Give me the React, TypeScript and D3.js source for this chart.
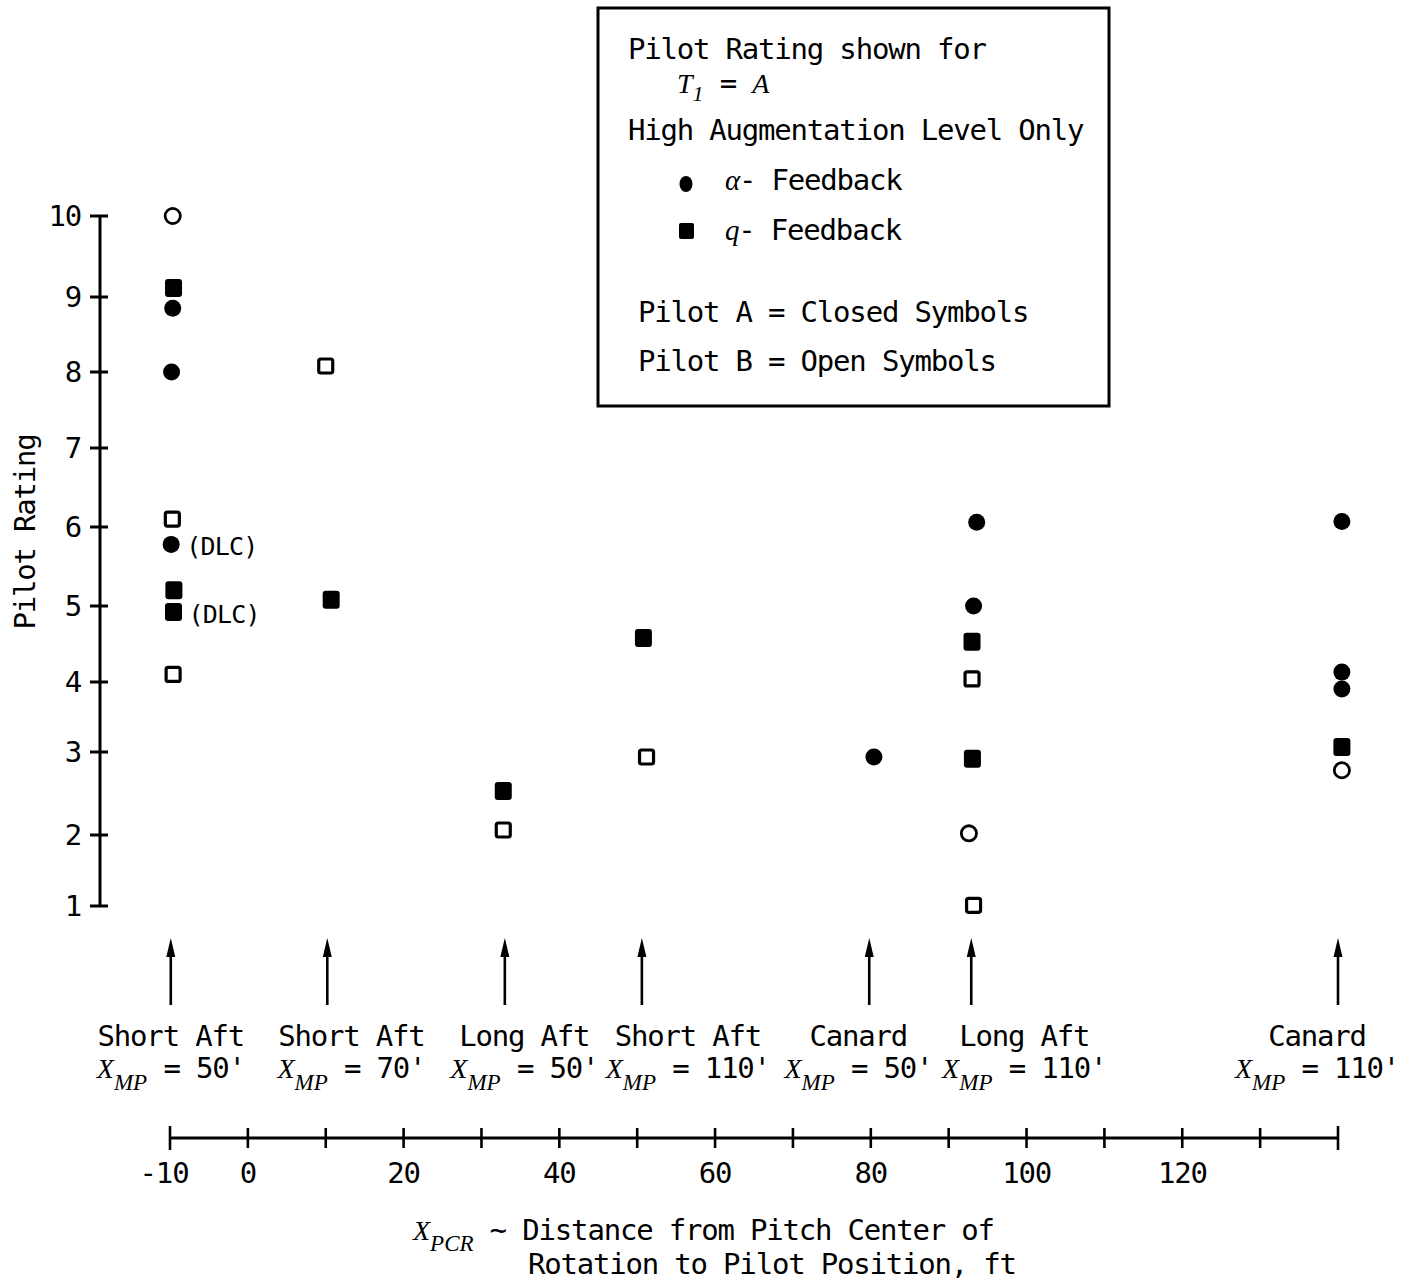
import React from "react";
import * as d3 from "d3";

// ---------- data ----------
const yTicks = [1, 2, 3, 4, 5, 6, 7, 8, 9, 10];
// hand-drawn rating axis: pixel calibration of each tick (axis is not perfectly uniform)
const yTickPixels = [906, 835, 752, 682, 606, 527, 448, 372, 297, 216];
const xTicks = d3.range(-10, 141, 10);
const xTickLabels = [-10, 0, 20, 40, 60, 80, 100, 120];

// [X_PCR (ft), pilot rating]
const alphaPilotA: [number, number][] = [
  [-9.65, 8.85], [-9.8, 8.0], [-9.85, 5.78], [80.4, 2.94],
  [93.6, 6.06], [93.2, 5.0], [140.5, 6.07], [140.5, 4.13], [140.5, 3.9],
];
const qPilotA: [number, number][] = [
  [-9.55, 9.11], [-9.5, 5.2], [-9.55, 4.92], [10.7, 5.08], [32.8, 2.53],
  [50.8, 4.58], [93.0, 4.53], [93.05, 2.92], [140.5, 3.07],
];
const alphaPilotB: [number, number][] = [[-9.65, 10.0], [92.6, 2.02], [140.5, 2.78]];
const qPilotB: [number, number][] = [
  [-9.7, 6.1], [-9.6, 4.1], [10.0, 8.08], [32.8, 2.06], [51.2, 2.94], [93.0, 4.04], [93.2, 1.01],
];
const dlcNotes: [number, number][] = [[-9.85, 5.78], [-9.55, 4.92]];

const configNames = ["Short Aft", "Short Aft", "Long Aft", "Short Aft", "Canard", "Long Aft", "Canard"];
const configXmp = ["50'", "70'", "50'", "110'", "50'", "110'", "110'"];
const configArrowX = [-9.9, 10.2, 33.0, 50.6, 79.8, 92.9, 140];
const configLabelX = [-9.9, 13.3, 35.5, 56.5, 78.4, 99.7, 137.3];

// ---------- layout ----------
const W = 1414;
const H = 1283;
const MONO = "'DejaVu Sans Mono', 'Liberation Mono', monospace";
const SERIF = "'Liberation Serif', 'DejaVu Serif', serif";
const FS = 29;
const LS = -1.2;
const AXIS_X = 100;
const AXIS_Y = 1138;

export default function App() {
  const x = d3.scaleLinear().domain([-10, 140]).range([170, 1338]);
  const y = d3.scaleLinear().domain(yTicks).range(yTickPixels);

  const arrowTop = 938;
  const arrowBottom = 1005;

  return (
    <svg
      width={W}
      height={H}
      viewBox={`0 0 ${W} ${H}`}
      style={{ position: "absolute", left: 0, top: 0, display: "block", background: "#fff" }}
      fontFamily={MONO}
      fontSize={FS}
      letterSpacing={LS}
    >
      <rect x={0} y={0} width={W} height={H} fill="#fff" />

      {/* Y axis */}
      <line x1={AXIS_X} x2={AXIS_X} y1={y(10)} y2={y(1)} stroke="#000" strokeWidth={3} />
      {yTicks.map((t) => (
        <g key={t}>
          <line x1={AXIS_X - 10} x2={AXIS_X + 8} y1={y(t)} y2={y(t)} stroke="#000" strokeWidth={3} />
          <text x={81} y={y(t)} dy="0.36em" textAnchor="end">{t}</text>
        </g>
      ))}
      <text transform={`translate(35,532) rotate(-90)`} textAnchor="middle">Pilot Rating</text>

      {/* points */}
      {qPilotB.map(([a, b], i) => (
        <rect key={"qb" + i} x={x(a) - 7} y={y(b) - 7} width={14} height={14} rx={2}
          fill="#fff" stroke="#000" strokeWidth={3.2} />
      ))}
      {alphaPilotB.map(([a, b], i) => (
        <circle key={"ab" + i} cx={x(a)} cy={y(b)} r={7.6} fill="#fff" stroke="#000" strokeWidth={2.8} />
      ))}
      {qPilotA.map(([a, b], i) => (
        <rect key={"qa" + i} x={x(a) - 8.5} y={y(b) - 9} width={17} height={18} rx={3} fill="#000" />
      ))}
      {alphaPilotA.map(([a, b], i) => (
        <circle key={"aa" + i} cx={x(a)} cy={y(b)} r={8.5} fill="#000" />
      ))}
      {dlcNotes.map(([a, b], i) => (
        <text key={"dlc" + i} x={x(a) + 15} y={y(b) + 11} fontSize={25} letterSpacing={-0.8}>(DLC)</text>
      ))}

      {/* configuration arrows & labels */}
      {configArrowX.map((a, i) => (
        <g key={"arr" + i}>
          <line x1={x(a)} x2={x(a)} y1={arrowTop + 14} y2={arrowBottom} stroke="#000" strokeWidth={2.6} />
          <path d={`M${x(a)},${arrowTop} L${x(a) - 4.5},${arrowTop + 19} L${x(a) + 4.5},${arrowTop + 19} Z`} fill="#000" />
        </g>
      ))}
      {configLabelX.map((a, i) => (
        <g key={"lab" + i}>
          <text x={x(a)} y={1046} textAnchor="middle">{configNames[i]}</text>
          <text x={x(a)} y={1078} textAnchor="middle">
            <tspan fontFamily={SERIF} fontStyle="italic" fontSize={28} letterSpacing={0}>X</tspan>
            <tspan fontFamily={SERIF} fontStyle="italic" fontSize={23} letterSpacing={0} dy={12}>MP</tspan>
            <tspan dy={-12}>{" = " + configXmp[i]}</tspan>
          </text>
        </g>
      ))}

      {/* X axis */}
      <line x1={x(-10)} x2={x(140)} y1={AXIS_Y} y2={AXIS_Y} stroke="#000" strokeWidth={3} />
      {xTicks.map((t) => (
        <line key={t} x1={x(t)} x2={x(t)} y1={AXIS_Y - (t === -10 || t === 140 ? 12 : 10)}
          y2={AXIS_Y + (t === -10 || t === 140 ? 12 : 10)} stroke="#000" strokeWidth={2.6} />
      ))}
      {xTickLabels.map((t) => (
        <text key={t} x={x(t) - (t < 0 ? 6 : 0)} y={1183} textAnchor="middle">{t}</text>
      ))}
      <text x={413} y={1240}>
        <tspan fontFamily={SERIF} fontStyle="italic" fontSize={28} letterSpacing={0}>X</tspan>
        <tspan fontFamily={SERIF} fontStyle="italic" fontSize={23} letterSpacing={0} dy={11}>PCR</tspan>
        <tspan dy={-11}>{" \u223C Distance from Pitch Center of"}</tspan>
      </text>
      <text x={528} y={1274}>Rotation to Pilot Position, ft</text>

      {/* legend */}
      <rect x={598} y={8} width={511} height={398} fill="#fff" stroke="#000" strokeWidth={3} />
      <text x={628} y={59}>Pilot Rating shown for</text>
      <text x={677} y={93}>
        <tspan fontFamily={SERIF} fontStyle="italic" fontSize={28} letterSpacing={0}>T</tspan>
        <tspan fontFamily={SERIF} fontStyle="italic" fontSize={22} letterSpacing={0} dy={8}>1</tspan>
        <tspan dy={-8}>{" = "}</tspan>
        <tspan fontFamily={SERIF} fontStyle="italic" fontSize={28} letterSpacing={0}>A</tspan>
      </text>
      <text x={628} y={140}>High Augmentation Level Only</text>
      <ellipse cx={686} cy={184} rx={6.5} ry={8} fill="#000" />
      <text x={725} y={190}>
        <tspan fontFamily={SERIF} fontStyle="italic">{"\u03B1"}</tspan>
        <tspan>{"- Feedback"}</tspan>
      </text>
      <rect x={679} y={223} width={15} height={16} rx={2} fill="#000" />
      <text x={725} y={240}>
        <tspan fontFamily={SERIF} fontStyle="italic" fontSize={29}>q</tspan>
        <tspan>{"- Feedback"}</tspan>
      </text>
      <text x={638} y={322}>Pilot A = Closed Symbols</text>
      <text x={638} y={371}>Pilot B = Open Symbols</text>
    </svg>
  );
}
